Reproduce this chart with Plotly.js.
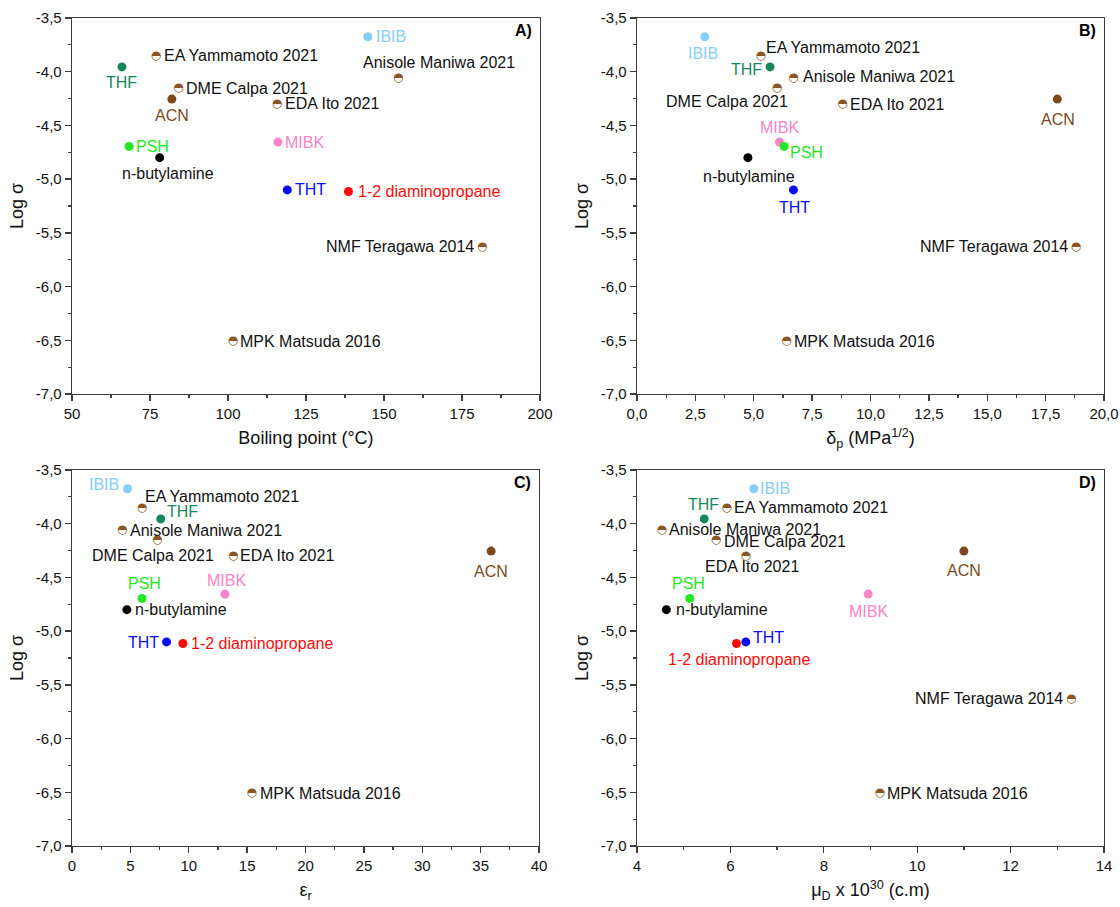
<!DOCTYPE html>
<html><head><meta charset="utf-8">
<script src="https://cdn.plot.ly/plotly-3.0.1.min.js"></script>
<style>html,body{margin:0;padding:0;background:#fff}#chart{width:1120px;height:907px}</style>
</head><body><div id="chart"></div>
<script>
// ---------- data ----------
const solvents = ['IBIB','EA','THF','DME','ACN','Anisole','EDA','MIBK','PSH','n-butylamine','THT','1-2 diaminopropane','NMF','MPK'];
const pointLabels = ['IBIB','EA Yammamoto 2021','THF','DME Calpa 2021','ACN','Anisole Maniwa 2021','EDA Ito 2021','MIBK','PSH','n-butylamine','THT','1-2 diaminopropane','NMF Teragawa 2014','MPK Matsuda 2016'];
const fromLiterature = [false,true,false,true,false,true,true,false,false,false,false,false,true,true];
const logSigma = [-3.675,-3.85,-3.955,-4.155,-4.255,-4.06,-4.30,-4.655,-4.695,-4.80,-5.10,-5.115,-5.63,-6.51];
const boilingPoint = [144.8,76.9,66,84.1,82,154.6,115.7,116,68.3,78.1,119,138.6,181.5,101.6];
const deltaP = [2.9,5.3,5.7,6.0,18.0,6.7,8.8,6.1,6.3,4.75,6.7,null,18.8,6.4];
const epsR = [4.75,6.0,7.6,7.3,35.9,4.3,13.8,13.1,6.0,4.7,8.1,9.5,null,15.4];
const muD = [6.5,5.92,5.44,5.69,11.0,4.53,6.33,8.95,5.13,4.63,6.33,6.13,13.3,9.2];
const yTickVals = [-7,-6.5,-6,-5.5,-5,-4.5,-4,-3.5];
const yTickText = ['-7,0','-6,5','-6,0','-5,5','-5,0','-4,5','-4,0','-3,5'];
const panelLetters = ['A)','B)','C)','D)'];

// ---------- styles ----------
const FONT = 'Liberation Sans, Arial, sans-serif';
const dotColor = {'IBIB':'#87CEFA','THF':'#14875B','ACN':'#7A4A1C','MIBK':'#F984C8','PSH':'#22E822',
  'n-butylamine':'#000000','THT':'#0A0AF5','1-2 diaminopropane':'#FF0A0A'};
const halfColor = '#8B5524';
const labelColor = {'IBIB':'#87CEFA','THF':'#14875B','ACN':'#7A4A1C','MIBK':'#F984C8','PSH':'#22E822',
  'THT':'#0A0AF5','1-2 diaminopropane':'#FF0A0A'};
// label offsets per panel: [anchor, dx(px, right), dy(px, down)]
const offsets = [
 [['l',6,0],['l',6,0],['c',0,16],['l',6,0],['c',0,16],['l',-37,-16],['l',6,0],['l',5,0],['l',5,0],['c',8,16],['l',6,0],['l',8,0],['r',-6,0],['l',5,0]],
 [['c',-2,17],['l',3,-8],['r',-6,3],['c',-50,13],['c',1,20],['l',8,-2],['l',6,1],['c',0,-15],['l',4,6],['c',1,19],['c',1,18],null,['r',-6,0],['l',6,0]],
 [['r',-6,-4],['l',1,-11],['l',4,-7],['c',-4,15],['c',0,20],['l',6,0],['l',5,0],['c',2,-14],['c',2,-15],['l',6,0],['r',-6,1],['l',6,0],null,['l',6,0]],
 [['l',4,0],['l',5,0],['c',-1,-14],['l',6,1],['c',0,19],['l',5,-1],['c',6,11],['c',0,17],['c',-1,-15],['l',8,0],['l',5,-4],['c',3,16],['r',-6,0],['l',5,0]]
];
const xSeries = [boilingPoint, deltaP, epsR, muD];
const anchorMap = {l:'left',c:'center',r:'right'};

const traces = [];
const annotations = [];
xSeries.forEach((xs, p) => {
  const ax = p === 0 ? '' : String(p+1);
  const solidX=[], solidY=[], solidC=[], halfX=[], halfY=[];
  xs.forEach((xv, i) => {
    if (xv === null) return;
    if (fromLiterature[i]) { halfX.push(xv); halfY.push(logSigma[i]); }
    else { solidX.push(xv); solidY.push(logSigma[i]); solidC.push(dotColor[solvents[i]]); }
    const o = offsets[p][i];
    annotations.push({
      xref:'x'+ax, yref:'y'+ax, x:xv, y:logSigma[i], text:pointLabels[i], showarrow:false,
      xanchor:anchorMap[o[0]], yanchor:'middle', xshift:o[1], yshift:-o[2],
      font:{family:FONT, size:16, color: labelColor[solvents[i]] || '#111111'}
    });
  });
  traces.push({type:'scatter', mode:'markers', x:solidX, y:solidY, xaxis:'x'+ax, yaxis:'y'+ax,
    marker:{size:9, color:solidC, line:{width:0}}, hoverinfo:'skip', showlegend:false, cliponaxis:false});
  traces.push({type:'scatter', mode:'text', x:halfX, y:halfY, xaxis:'x'+ax, yaxis:'y'+ax,
    text:halfX.map(()=> '\u25D3'), textposition:'middle center',
    textfont:{family:'DejaVu Sans', size:12, color:halfColor}, hoverinfo:'skip', showlegend:false, cliponaxis:false});
  annotations.push({xref:'x'+ax+' domain', yref:'y'+ax+' domain', x:1, y:1, xanchor:'right', yanchor:'top',
    xshift:-6, yshift:-2, text:'<b>'+panelLetters[p]+'</b>', showarrow:false, font:{family:FONT, size:16, color:'#000'}});
});

const lineCol = '#3c3c3c';
function xAxis(domain, range, dtick, minor, fmt, title, anchor){
  return {domain, range, dtick, tick0:range[0], tickformat:fmt, showgrid:false, zeroline:false,
    showline:true, mirror:true, linecolor:lineCol, linewidth:1.3, ticks:'outside', ticklen:6, tickwidth:1.3, tickcolor:lineCol,
    minor:{dtick:minor, tick0:range[0], ticks:'outside', ticklen:3, tickwidth:1.2, tickcolor:lineCol, showgrid:false},
    tickfont:{family:FONT, size:15, color:'#111'}, anchor,
    title:{text:title, font:{family:FONT, size:18, color:'#111'}, standoff:10}};
}
function yAxis(domain, anchor){
  return {domain, range:[-7,-3.5], tickmode:'array', tickvals:yTickVals, ticktext:yTickText, showgrid:false, zeroline:false,
    showline:true, mirror:true, linecolor:lineCol, linewidth:1.3, ticks:'outside', ticklen:6, tickwidth:1.3, tickcolor:lineCol,
    minor:{tickmode:'linear', dtick:0.25, tick0:-7, ticks:'outside', ticklen:3, tickwidth:1.2, tickcolor:lineCol, showgrid:false},
    tickfont:{family:FONT, size:15, color:'#111'}, anchor,
    title:{text:'Log σ', font:{family:FONT, size:18, color:'#111'}, standoff:7}};
}
const xdL=[72/1120,540/1120], xdR=[637/1120,1104/1120];
const ydT=[1-394/907,1-18/907], ydB=[1-846/907,1-470/907];
const layout = {
  width:1120, height:907, margin:{l:0,r:0,t:0,b:0}, paper_bgcolor:'#fff', plot_bgcolor:'#fff',
  separators:',.', showlegend:false, font:{family:FONT},
  xaxis: xAxis(xdL,[50,200],25,12.5,'d','Boiling point (°C)','y'),
  yaxis: yAxis(ydT,'x'),
  xaxis2: xAxis(xdR,[0,20],2.5,1.25,'.1f','δ<sub>p</sub> (MPa<sup>1/2</sup>)','y2'),
  yaxis2: yAxis(ydT,'x2'),
  xaxis3: xAxis([72/1120,539/1120],[0,40],5,2.5,'d','ε<sub>r</sub>','y3'),
  yaxis3: yAxis(ydB,'x3'),
  xaxis4: xAxis(xdR,[4,14],2,1,'d','μ<sub>D</sub> x 10<sup>30</sup> (c.m)','y4'),
  yaxis4: yAxis(ydB,'x4'),
  annotations
};
Plotly.newPlot('chart', traces, layout, {staticPlot:true});
</script></body></html>
